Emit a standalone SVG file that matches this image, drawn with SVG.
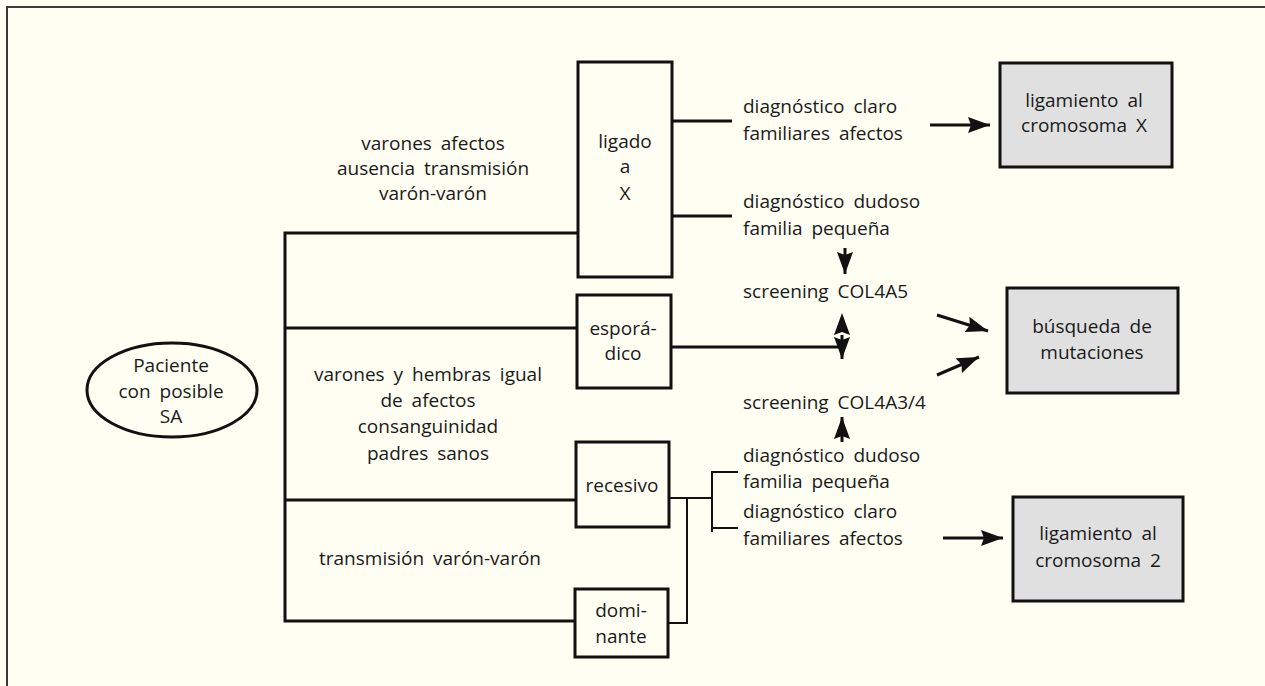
<svg xmlns="http://www.w3.org/2000/svg" width="1265" height="686" viewBox="0 0 1265 686">
<defs>
<style>
text{font-family:"Open Sans","Liberation Sans",sans-serif;font-size:19px;fill:#1a1a1a;word-spacing:4px}
.c{text-anchor:middle}
.box{fill:none;stroke:#111;stroke-width:3}
.gbox{fill:#e0e0e0;stroke:#111;stroke-width:3}
.ln{fill:none;stroke:#111;stroke-width:3}
.thin{fill:none;stroke:#111;stroke-width:2}
</style>
<marker id="ah" viewBox="0 0 22 16" refX="22" refY="8" markerWidth="22" markerHeight="16" markerUnits="userSpaceOnUse" orient="auto">
<path d="M0,0 L22,8 L0,16 L3,8 Z" fill="#111"/>
</marker>
<marker id="ahs" viewBox="0 0 22 16" refX="0" refY="8" markerWidth="22" markerHeight="16" markerUnits="userSpaceOnUse" orient="auto-start-reverse">
<path d="M0,0 L22,8 L0,16 L3,8 Z" fill="#111"/>
</marker>
</defs>
<rect x="0" y="0" width="1265" height="686" fill="#fefef3"/>
<path d="M7,686 L7,7 L1265,7" fill="none" stroke="#3a3a3a" stroke-width="2"/>

<g id="connectors">
<path class="ln" d="M578,233 H285 V621 H575"/>
<path class="ln" d="M285,328 H577"/>
<path class="ln" d="M285,500 H576"/>
<path class="ln" d="M672,121 H732"/>
<path class="ln" d="M672,216 H732"/>
<path class="ln" d="M671,347 H842"/>
<path class="ln" d="M842,335 V359" marker-start="url(#ahs)" marker-end="url(#ah)"/>
<path class="ln" d="M845,248 V274" marker-end="url(#ah)"/>
<path class="ln" d="M842,442 V417" marker-end="url(#ah)"/>
<path class="ln" d="M930,125 H990" marker-end="url(#ah)"/>
<path class="ln" d="M943,538 H1003" marker-end="url(#ah)"/>
<path class="ln" d="M937,315 L988,331" marker-end="url(#ah)"/>
<path class="ln" d="M937,375 L979,357" marker-end="url(#ah)"/>
<path class="thin" d="M669,498 H712"/>
<path class="thin" d="M738,472 H712 V532 M712,528 H738"/>
<path class="thin" d="M687,498 V623 H668"/>
</g>

<g id="paciente">
<ellipse cx="172" cy="390" rx="85" ry="47" fill="none" stroke="#111" stroke-width="3"/>
<text class="c" x="171" y="372">Paciente</text>
<text class="c" x="171" y="398">con posible</text>
<text class="c" x="171" y="423">SA</text>
</g>

<g id="ligado">
<rect class="box" x="578" y="62" width="94" height="215"/>
<text class="c" x="625" y="148">ligado</text>
<text class="c" x="625" y="173">a</text>
<text class="c" x="625" y="200">X</text>
</g>

<g id="esporadico">
<rect class="box" x="577" y="295" width="94" height="93"/>
<text class="c" x="623" y="335">esporá-</text>
<text class="c" x="623" y="360">dico</text>
</g>

<g id="recesivo">
<rect class="box" x="576" y="442" width="93" height="85"/>
<text class="c" x="622" y="492">recesivo</text>
</g>

<g id="dominante">
<rect class="box" x="575" y="589" width="93" height="68"/>
<text class="c" x="621" y="617">domi-</text>
<text class="c" x="621" y="643">nante</text>
</g>

<g id="ligX">
<rect class="gbox" x="1000" y="63" width="172" height="104"/>
<text class="c" x="1084" y="107">ligamiento al</text>
<text class="c" x="1084" y="132">cromosoma X</text>
</g>

<g id="busqueda">
<rect class="gbox" x="1007" y="288" width="171" height="105"/>
<text class="c" x="1092" y="333">búsqueda de</text>
<text class="c" x="1092" y="359">mutaciones</text>
</g>

<g id="lig2">
<rect class="gbox" x="1013" y="497" width="170" height="104"/>
<text class="c" x="1098" y="540">ligamiento al</text>
<text class="c" x="1098" y="567">cromosoma 2</text>
</g>

<g id="labels">
<text class="c" x="433" y="150">varones afectos</text>
<text class="c" x="433" y="175">ausencia transmisión</text>
<text class="c" x="433" y="200">varón-varón</text>
<text class="c" x="428" y="381">varones y hembras igual</text>
<text class="c" x="428" y="407">de afectos</text>
<text class="c" x="428" y="433">consanguinidad</text>
<text class="c" x="428" y="460">padres sanos</text>
<text class="c" x="430" y="565">transmisión varón-varón</text>
<text x="743" y="113">diagnóstico claro</text>
<text x="743" y="140">familiares afectos</text>
<text x="743" y="208">diagnóstico dudoso</text>
<text x="743" y="235">familia pequeña</text>
<text x="743" y="298">screening COL4A5</text>
<text x="743" y="409">screening COL4A3/4</text>
<text x="743" y="462">diagnóstico dudoso</text>
<text x="743" y="488">familia pequeña</text>
<text x="743" y="518">diagnóstico claro</text>
<text x="743" y="545">familiares afectos</text>
</g>
</svg>
